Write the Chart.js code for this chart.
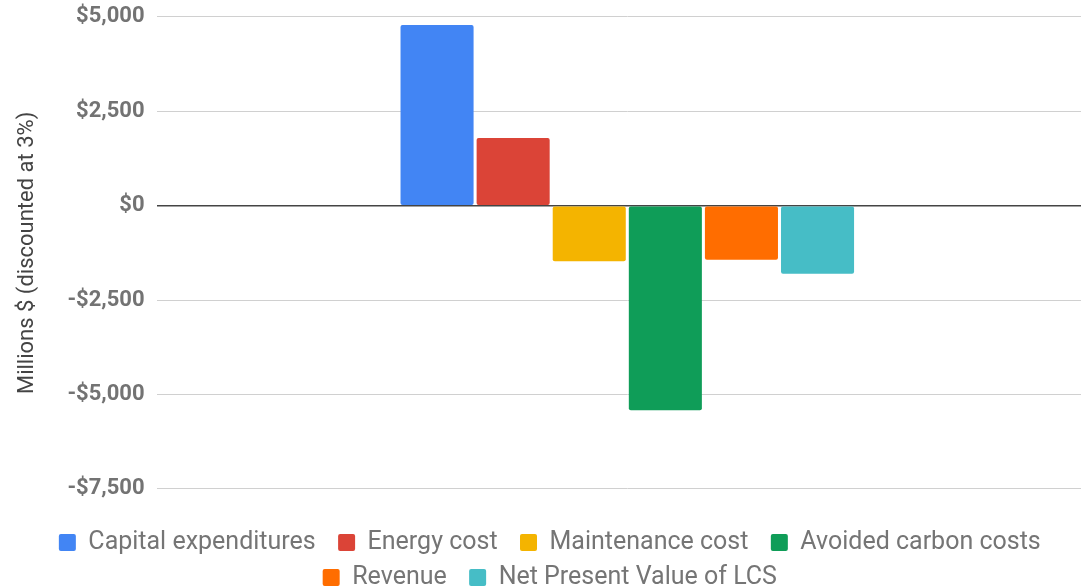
<!DOCTYPE html>
<html>
<head>
<meta charset="utf-8">
<script src="https://cdn.jsdelivr.net/npm/chart.js@4.4.0/dist/chart.umd.min.js"></script>
<style>
  html, body { margin: 0; padding: 0; background: #fff; overflow: hidden; }
  #wrap { width: 1098px; height: 588px; }
</style>
</head>
<body>
<div id="wrap"><canvas id="myChart"></canvas></div>
<script>
var categories = [''];
var seriesNames = ['Capital expenditures', 'Energy cost', 'Maintenance cost', 'Avoided carbon costs', 'Revenue', 'Net Present Value of LCS'];
var seriesValues = [4790, 1790, -1470, -5420, -1430, -1800];
var seriesColors = ['#4285f4', '#db4437', '#f4b400', '#0f9d58', '#ff6d00', '#46bdc6'];
var yTicks = [-7500, -5000, -2500, 0, 2500, 5000];

var datasets = seriesNames.map(function (name, i) {
    return {
        label: name,
        data: [seriesValues[i]],
        backgroundColor: seriesColors[i],
        borderColor: seriesColors[i],
        borderWidth: 0,
        borderRadius: 2,
        borderSkipped: false,
        categoryPercentage: 0.485,
        barPercentage: 0.96
    };
});

var ctx = document.getElementById('myChart').getContext('2d');
var myChart = new Chart(ctx, {
    type: 'bar',
    data: { labels: categories, datasets: datasets },
    options: {
        responsive: true,
        maintainAspectRatio: false,
        animation: false,
        layout: { padding: { top: 0, left: 14, right: 0, bottom: -12 } },
        scales: {
            x: { display: false },
            y: {
                min: yTicks[0],
                max: yTicks[yTicks.length - 1],
                afterBuildTicks: function (axis) {
                    axis.ticks = yTicks.map(function (v) { return { value: v }; });
                },
                border: { display: false },
                grid: {
                    drawTicks: false,
                    lineWidth: function (c) { return c.tick && c.tick.value === 0 ? 1.5 : 1; },
                    color: function (c) { return c.tick && c.tick.value === 0 ? '#444' : '#d0d0d0'; }
                },
                ticks: {
                    padding: 12,
                    color: '#737373',
                    // small lineHeight keeps the top label from pushing the plot down
                    font: { family: 'Roboto', size: 22, weight: 'bold', lineHeight: 0.45 },
                    callback: function (v) {
                        var s = '$' + Math.abs(v).toLocaleString('en-US');
                        return v < 0 ? '-' + s : s;
                    }
                },
                title: {
                    display: true,
                    text: 'Millions $ (discounted at 3%)',
                    color: '#444',
                    font: { family: 'Roboto', size: 22 },
                    padding: { top: 0, bottom: 15 }
                }
            }
        },
        plugins: {
            legend: {
                position: 'bottom',
                title: {
                    // empty title used only as spacing above the legend rows
                    display: true,
                    text: ' ',
                    font: { size: 1 },
                    padding: { top: 30, bottom: 0 }
                },
                labels: {
                    color: '#757575',
                    font: { family: 'Roboto', size: 25 },
                    boxWidth: 17,
                    boxHeight: 17,
                    padding: 10,
                    generateLabels: function (chart) {
                        // wider gap between items, like the original legend
                        return Chart.defaults.plugins.legend.labels.generateLabels(chart).map(function (l) {
                            l.text = l.text + '  ';
                            l.borderRadius = 2;
                            return l;
                        });
                    }
                }
            },
            tooltip: { enabled: false }
        }
    }
});
</script>
</body>
</html>
